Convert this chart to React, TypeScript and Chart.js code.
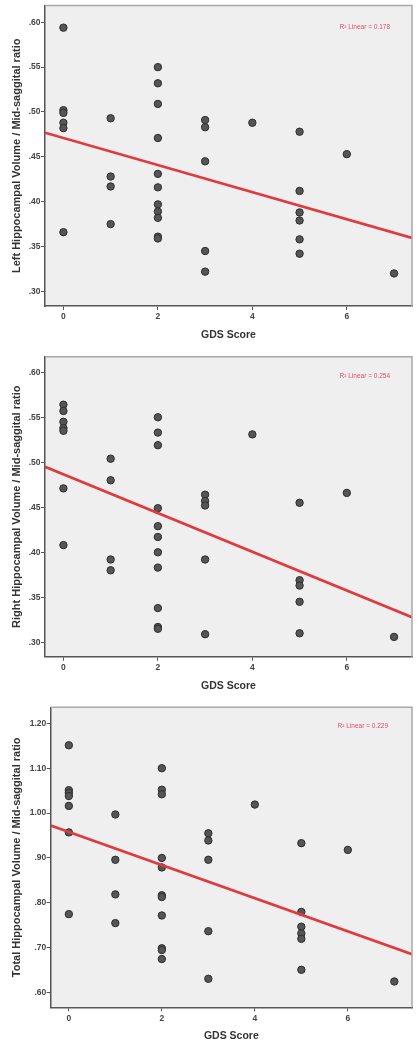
import React, { useEffect, useRef } from "react";
import { Chart, registerables } from "chart.js";

Chart.register(...registerables);

// ---- Data ----
const gdsLeft = [0, 0, 0, 0, 0, 0, 1, 1, 1, 1, 2, 2, 2, 2, 2, 2, 2, 2, 2, 2, 2, 3, 3, 3, 3, 3, 4, 5, 5, 5, 5, 5, 5, 6, 7];
const leftRatio = [0.594, 0.502, 0.499, 0.488, 0.482, 0.366, 0.493, 0.428, 0.417, 0.375, 0.55, 0.532, 0.509, 0.471, 0.431, 0.416, 0.397, 0.389, 0.382, 0.361, 0.359, 0.491, 0.483, 0.445, 0.345, 0.322, 0.488, 0.478, 0.412, 0.388, 0.379, 0.358, 0.342, 0.453, 0.32];

const gdsRight = [0, 0, 0, 0, 0, 0, 0, 1, 1, 1, 1, 2, 2, 2, 2, 2, 2, 2, 2, 2, 2, 2, 3, 3, 3, 3, 3, 4, 5, 5, 5, 5, 5, 6, 7];
const rightRatio = [0.564, 0.557, 0.545, 0.538, 0.535, 0.471, 0.408, 0.504, 0.48, 0.392, 0.38, 0.55, 0.533, 0.519, 0.449, 0.429, 0.417, 0.4, 0.383, 0.338, 0.317, 0.315, 0.464, 0.457, 0.452, 0.392, 0.309, 0.531, 0.455, 0.369, 0.363, 0.345, 0.31, 0.466, 0.306];

const gdsTotal = [0, 0, 0, 0, 0, 0, 0, 1, 1, 1, 1, 2, 2, 2, 2, 2, 2, 2, 2, 2, 2, 2, 3, 3, 3, 3, 3, 4, 5, 5, 5, 5, 5, 5, 6, 7];
const totalRatio = [1.151, 1.051, 1.045, 1.038, 1.016, 0.957, 0.775, 0.997, 0.896, 0.819, 0.755, 1.1, 1.052, 1.042, 0.9, 0.879, 0.817, 0.813, 0.772, 0.699, 0.695, 0.675, 0.955, 0.939, 0.896, 0.737, 0.631, 1.019, 0.933, 0.78, 0.747, 0.732, 0.72, 0.651, 0.918, 0.625];

// Fit lines (intercept, slope) and R² labels
const leftFit = [0.471, -0.0151];
const rightFit = [0.4866, -0.0215];
const totalFit = [0.958, -0.0369];
const r2Labels = ["R\u00B2 Linear = 0.178", "R\u00B2 Linear = 0.254", "R\u00B2 Linear = 0.229"];

// Tick labels
const xTickValues = [0, 2, 4, 6];
const leftTicks = [0.3, 0.35, 0.4, 0.45, 0.5, 0.55, 0.6];
const rightTicks = [0.3, 0.35, 0.4, 0.45, 0.5, 0.55, 0.6];
const totalTicks = [0.6, 0.7, 0.8, 0.9, 1.0, 1.1, 1.2];

const yTitles = [
  "Left Hippocampal Volume / Mid-saggital ratio",
  "Right Hippocampal Volume / Mid-saggital ratio",
  "Total Hippocampal Volume / Mid-saggital ratio",
];
const xTitle = "GDS Score";

const X_MIN = -0.39;
const X_MAX = 7.38;

type Panel = {
  top: number;
  height: number;
  padTop: number;
  axisBottomH: number;
  leftW: number;
  xTitlePad: number;
  yMin: number;
  yMax: number;
  xs: number[];
  ys: number[];
  fit: number[];
  ticks: number[];
  yTitle: string;
  r2: string;
  r2dx: number;
  r2dy: number;
};

const panels: Panel[] = [
  { top: 0, height: 345, padTop: 5, axisBottomH: 39, leftW: 45, xTitlePad: 3.3, yMin: 0.2837, yMax: 0.6186, xs: gdsLeft, ys: leftRatio, fit: leftFit, ticks: leftTicks, yTitle: yTitles[0], r2: r2Labels[0], r2dx: 22, r2dy: 22 },
  { top: 345, height: 350, padTop: 11.7, axisBottomH: 38.3, leftW: 45, xTitlePad: 2.3, yMin: 0.284, yMax: 0.6173, xs: gdsRight, ys: rightRatio, fit: rightFit, ticks: rightTicks, yTitle: yTitles[1], r2: r2Labels[1], r2dx: 22, r2dy: 20 },
  { top: 695, height: 354, padTop: 12.3, axisBottomH: 41.7, leftW: 50.7, xTitlePad: 6.3, yMin: 0.5675, yMax: 1.2356, xs: gdsTotal, ys: totalRatio, fit: totalFit, ticks: totalTicks, yTitle: yTitles[2], r2: r2Labels[2], r2dx: 24, r2dy: 19.4 },
];

const fmt = (v: number) => {
  const s = v.toFixed(2);
  return s.startsWith("0") ? s.slice(1) : s;
};

function PanelChart({ p }: { p: Panel }) {
  const ref = useRef<HTMLCanvasElement | null>(null);
  useEffect(() => {
    if (!ref.current) return;
    const pts = p.xs.map((x, i) => ({ x, y: p.ys[i] }));
    const [a, b] = p.fit;
    const linePts = [
      { x: X_MIN, y: a + b * X_MIN },
      { x: X_MAX, y: a + b * X_MAX },
    ];
    const framePlugin = {
      id: "frame",
      beforeDraw(chart: any) {
        const { ctx, chartArea: ca } = chart;
        ctx.save();
        ctx.fillStyle = "#efefef";
        ctx.fillRect(ca.left, ca.top, ca.right - ca.left, ca.bottom - ca.top);
        ctx.restore();
      },
      afterDraw(chart: any) {
        const { ctx, chartArea: ca } = chart;
        ctx.save();
        ctx.strokeStyle = "#a8a8a8";
        ctx.lineWidth = 1.5;
        ctx.beginPath();
        ctx.moveTo(ca.left, ca.top);
        ctx.lineTo(ca.right, ca.top);
        ctx.lineTo(ca.right, ca.bottom);
        ctx.stroke();
        ctx.fillStyle = "#e0506a";
        ctx.font = "6.5px Arial, 'Liberation Sans', sans-serif";
        ctx.textAlign = "right";
        ctx.textBaseline = "middle";
        ctx.fillText(p.r2, ca.right - p.r2dx, ca.top + p.r2dy);
        ctx.restore();
      },
    };
    const chart = new Chart(ref.current, {
      type: "scatter",
      data: {
        datasets: [
          {
            type: "line",
            data: linePts,
            borderColor: "#e03a3e",
            borderWidth: 2.7,
            pointRadius: 0,
            order: 0,
          } as any,
          {
            type: "scatter",
            data: pts,
            backgroundColor: "#555555",
            borderColor: "#2e2e2e",
            borderWidth: 1,
            pointRadius: 3.7,
            order: 1,
          },
        ],
      },
      options: {
        responsive: false,
        animation: false,
        events: [],
        layout: { padding: { left: 0, right: 7, top: p.padTop, bottom: 0 } },
        plugins: { legend: { display: false }, tooltip: { enabled: false } },
        scales: {
          x: {
            type: "linear",
            min: X_MIN,
            max: X_MAX,
            afterBuildTicks: (s: any) => {
              s.ticks = xTickValues.map((v) => ({ value: v }));
            },
            afterFit: (s: any) => {
              s.height = p.axisBottomH;
            },
            grid: { drawOnChartArea: false, drawTicks: true, tickLength: 4, color: "#555", lineWidth: 1 },
            border: { display: true, color: "#555", width: 1.5 },
            ticks: {
              padding: 2,
              color: "#444",
              font: { family: "Arial, 'Liberation Sans', sans-serif", size: 8.5, weight: "bold" },
              callback: (v: any) => String(v),
              maxRotation: 0,
            },
            title: {
              display: true,
              text: xTitle,
              color: "#333",
              font: { family: "Arial, 'Liberation Sans', sans-serif", size: 10.5, weight: "bold" },
              padding: { top: 0, bottom: p.xTitlePad },
            },
          },
          y: {
            type: "linear",
            min: p.yMin,
            max: p.yMax,
            afterBuildTicks: (s: any) => {
              s.ticks = p.ticks.map((v) => ({ value: v }));
            },
            afterFit: (s: any) => {
              s.width = p.leftW;
            },
            grid: { drawOnChartArea: false, drawTicks: true, tickLength: 4, color: "#555", lineWidth: 1 },
            border: { display: true, color: "#555", width: 1.5 },
            ticks: {
              padding: 0.5,
              color: "#444",
              font: { family: "Arial, 'Liberation Sans', sans-serif", size: 8.5, weight: "bold" },
              callback: (v: any) => fmt(Number(v)),
            },
            title: {
              display: true,
              text: p.yTitle,
              color: "#333",
              font: { family: "Arial, 'Liberation Sans', sans-serif", size: 11, weight: "bold" },
              padding: { top: 10.4, bottom: 0 },
            },
          },
        },
      },
      plugins: [framePlugin],
    });
    return () => chart.destroy();
  }, [p]);
  return (
    <canvas
      ref={ref}
      width={419}
      height={p.height}
      style={{ position: "absolute", left: 0, top: p.top, width: 419, height: p.height, display: "block" }}
    />
  );
}

export default function App() {
  return (
    <div style={{ position: "absolute", left: 0, top: 0, width: 419, height: 1049, background: "#ffffff" }}>
      {panels.map((p, i) => (
        <PanelChart key={i} p={p} />
      ))}
    </div>
  );
}
